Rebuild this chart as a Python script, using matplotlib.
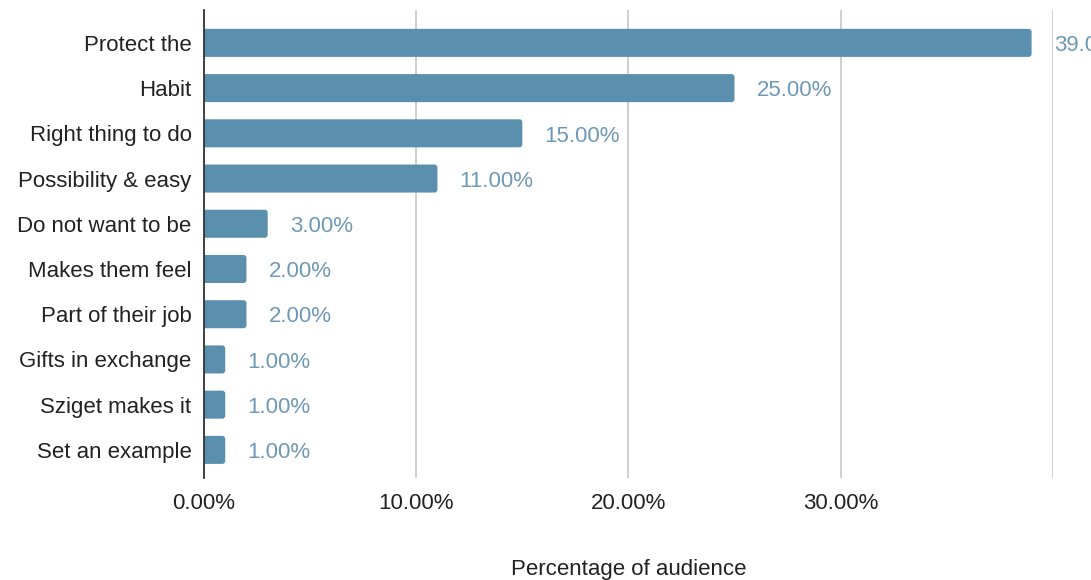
import matplotlib
matplotlib.use("Agg")
import matplotlib.pyplot as plt
import matplotlib.patches as mpatches

plt.rcParams['font.family'] = ['Liberation Sans', 'DejaVu Sans']

# reasons given by the audience, share in percent
reasons = ["Protect the", "Habit", "Right thing to do", "Possibility & easy",
           "Do not want to be", "Makes them feel", "Part of their job",
           "Gifts in exchange", "Sziget makes it", "Set an example"]
share = [39.0, 25.0, 15.0, 11.0, 3.0, 2.0, 2.0, 1.0, 1.0, 1.0]
xtick_vals = [0, 10, 20, 30, 40]
xtick_labels = ["0.00%", "10.00%", "20.00%", "30.00%", ""]

bar_col = "#5a8fae"
lab_col = "#6e99b6"
fs = 16

fig = plt.figure(figsize=(10.91, 5.8), dpi=100)
ax = fig.add_axes([0.187, 0.176, 0.778, 0.807])

ypos = list(range(len(reasons)))
bars = ax.barh(ypos, share, height=0.62, color=bar_col)

# swap the plain rectangles for rounded ones
for b in bars:
    x0, y0 = b.get_x(), b.get_y()
    w, h = b.get_width(), b.get_height()
    b.set_visible(False)
    rb = mpatches.FancyBboxPatch((x0 - 0.3, y0), w + 0.3, h,
                                 boxstyle="round,pad=0,rounding_size=0.14",
                                 mutation_aspect=0.47,
                                 facecolor=bar_col, edgecolor="none", zorder=2)
    ax.add_patch(rb)

# value labels, the top one runs off the right edge
for y, v in zip(ypos, share):
    ax.annotate(f"{v:.2f}%", xy=(v, y), xytext=(16, -2), textcoords="offset points",
                va="center", ha="left", fontsize=fs, color=lab_col,
                annotation_clip=False)

ax.set_xlim(0, 40)
ax.set_ylim(9.62, -0.73)
ax.set_yticks(ypos)
ax.set_yticklabels(reasons, fontsize=fs, color="#222222")
ax.set_xticks(xtick_vals)
ax.set_xticklabels(xtick_labels, fontsize=fs, color="#222222")
ax.tick_params(axis="both", length=0)
ax.tick_params(axis="y", pad=9)
ax.tick_params(axis="x", pad=11)

ax.grid(axis="x", color="#cccccc", linewidth=1.3, zorder=0)
ax.set_axisbelow(True)
for s in ["top", "right", "bottom"]:
    ax.spines[s].set_visible(False)
ax.spines["left"].set_color("#333333")
ax.spines["left"].set_linewidth(1.3)
ax.spines["left"].set_zorder(3)

ax.set_xlabel("Percentage of audience", fontsize=fs, color="#222222", labelpad=32)

fig.savefig("out.png", dpi=100)
